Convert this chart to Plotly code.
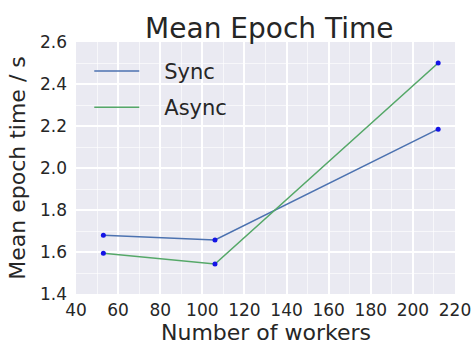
import plotly.graph_objects as go

workers = [53, 106, 212]
sync_times = [1.68, 1.657, 2.185]
async_times = [1.594, 1.543, 2.50]

x_ticks = [40, 60, 80, 100, 120, 140, 160, 180, 200, 220]
y_ticks = [1.4, 1.6, 1.8, 2.0, 2.2, 2.4, 2.6]

font_family = "DejaVu Sans"
text_color = "#262626"
pad = "\u00a0\u00a0\u00a0"

fig = go.Figure()
fig.add_trace(go.Scatter(x=workers, y=sync_times, mode="lines", name=pad + "Sync",
                         legendgroup="a", line=dict(color="#4C72B0", width=1.6)))
fig.add_trace(go.Scatter(x=workers, y=async_times, mode="lines", name=pad + "Async",
                         legendgroup="b", line=dict(color="#55A868", width=1.6)))
fig.add_trace(go.Scatter(x=workers, y=sync_times, mode="markers", showlegend=False,
                         marker=dict(color="#1414e6", size=5)))
fig.add_trace(go.Scatter(x=workers, y=async_times, mode="markers", showlegend=False,
                         marker=dict(color="#1414e6", size=5)))

fig.update_layout(
    width=474, height=345,
    margin=dict(l=76, r=19, t=42, b=51),
    paper_bgcolor="white",
    plot_bgcolor="#EAEAF2",
    font=dict(family=font_family, color=text_color),
    title=dict(text="Mean Epoch Time", x=0.51, xanchor="center",
               xref="paper", y=1, yref="paper", yanchor="bottom", pad=dict(b=4),
               font=dict(size=28, color=text_color)),
    legend=dict(x=0.035, y=0.965, xanchor="left", yanchor="top",
                bgcolor="rgba(0,0,0,0)", font=dict(size=21, color=text_color),
                tracegroupgap=6, itemwidth=45),
    showlegend=True,
    annotations=[dict(text="Number of workers", x=0.5, y=0, xref="paper", yref="paper",
                      xanchor="center", yanchor="top", yshift=-24, showarrow=False,
                      font=dict(size=22, color=text_color))],
)
fig.update_xaxes(
    range=[40, 220], tickvals=x_ticks, ticktext=[str(v) for v in x_ticks],
    showgrid=True, gridcolor="white", gridwidth=1.5, zeroline=False,
    showline=False, ticks="", tickfont=dict(size=17, color=text_color),
    ticklabelstandoff=4, automargin=False,
    minor=dict(dtick=10, tick0=0, showgrid=True, gridcolor="rgba(255,255,255,0.6)", gridwidth=0.6),
)
fig.update_yaxes(
    range=[1.4, 2.6], tickvals=y_ticks, ticktext=[f"{v:.1f}" for v in y_ticks],
    showgrid=True, gridcolor="white", gridwidth=1.5, zeroline=False,
    showline=False, ticks="", tickfont=dict(size=17, color=text_color),
    ticklabelstandoff=8, automargin=False,
    minor=dict(dtick=0.1, tick0=0, showgrid=True, gridcolor="rgba(255,255,255,0.6)", gridwidth=0.6),
    title=dict(text="Mean epoch time / s", font=dict(size=22, color=text_color), standoff=8),
)

fig.write_html("out.html")
